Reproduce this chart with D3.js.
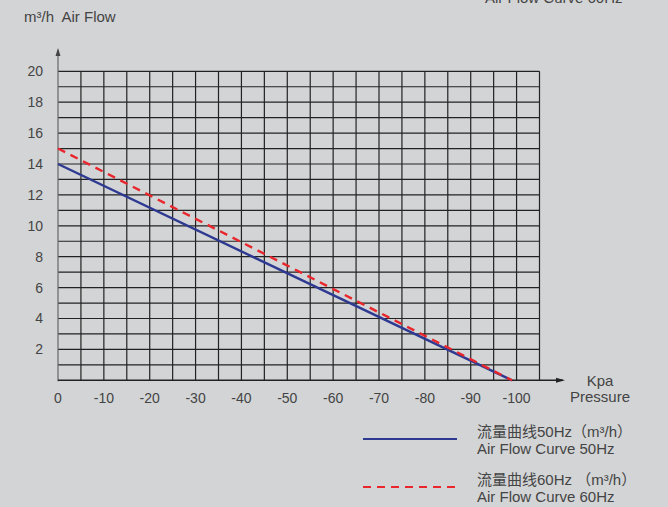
<!DOCTYPE html>
<html><head><meta charset="utf-8">
<script src="https://cdn.jsdelivr.net/npm/d3@7"></script>
<style>
html,body{margin:0;padding:0;background:#d3d4d6;}
svg{display:block;font-family:"Liberation Sans",Arial,"Noto Sans CJK SC",sans-serif;}
text{white-space:pre;}
</style></head>
<body>
<svg id="c" width="668" height="507"></svg>
<script>
const xTicks = [0,-10,-20,-30,-40,-50,-60,-70,-80,-90,-100];
const yTicks = [2,4,6,8,10,12,14,16,18,20];
const pressure = [0,-99];
const flow50 = [14,0];
const flow60 = [15,0];
const legendLabels = [
  ["流量曲线50Hz（m³/h）","Air Flow Curve 50Hz"],
  ["流量曲线60Hz （m³/h）","Air Flow Curve 60Hz"]
];

const svg = d3.select("#c");
const x = d3.scaleLinear().domain([0,-105]).range([58,539.5]);
const y = d3.scaleLinear().domain([0,20]).range([380.3,71.3]);
const txt = "#444";

// grid
const g = svg.append("g").attr("stroke","#222").attr("stroke-width",1.2);
d3.range(-5,-106,-5).forEach(v=>{
  g.append("line").attr("x1",x(v)).attr("x2",x(v)).attr("y1",y(0)).attr("y2",y(20));
});
d3.range(1,21,1).forEach(v=>{
  g.append("line").attr("x1",x(0)).attr("x2",x(-105)).attr("y1",y(v)).attr("y2",y(v));
});

// y axis with arrow
svg.append("line").attr("x1",x(0)).attr("x2",x(0)).attr("y1",y(0)+1).attr("y2",50)
  .attr("stroke","#666").attr("stroke-width",1.2);
svg.append("path").attr("d",`M${x(0)-2.5},56 L${x(0)},48 L${x(0)+2.5},56 Z`).attr("fill","#444");
// x axis with arrow
svg.append("line").attr("x1",x(0)).attr("x2",563).attr("y1",y(0)).attr("y2",y(0))
  .attr("stroke","#222").attr("stroke-width",1.4);
svg.append("path").attr("d",`M556,${y(0)-2.5} L565,${y(0)} L556,${y(0)+2.5} Z`).attr("fill","#222");

// tick labels
svg.append("g").selectAll("text").data(yTicks).join("text")
  .attr("x",43).attr("y",d=>y(d)).attr("dy","0.35em").attr("text-anchor","end")
  .attr("font-size",14).attr("fill",txt).text(d=>d);
svg.append("g").selectAll("text").data(xTicks).join("text")
  .attr("x",d=>x(d)).attr("y",398).attr("dy","0.35em").attr("text-anchor","middle")
  .attr("font-size",14).attr("fill",txt).text(d=>d);

// lines
const line = d3.line().x(d=>x(d[0])).y(d=>y(d[1]));
svg.append("path").attr("d",line(pressure.map((p,i)=>[p,flow50[i]])))
  .attr("fill","none").attr("stroke","#2e3a92").attr("stroke-width",2.4);
svg.append("path").attr("d",line(pressure.map((p,i)=>[p,flow60[i]])))
  .attr("fill","none").attr("stroke","#e8262c").attr("stroke-width",2.4).attr("stroke-dasharray","8,6");

// titles
svg.append("text").attr("x",24).attr("y",22).attr("font-size",15).attr("fill",txt).text("m³/h  Air Flow");
svg.append("text").attr("x",485).attr("y",3).attr("font-size",15).attr("fill",txt).text("Air Flow Curve 60Hz");
svg.append("text").attr("x",600).attr("y",386).attr("text-anchor","middle").attr("font-size",15).attr("fill",txt).text("Kpa");
svg.append("text").attr("x",600).attr("y",402).attr("text-anchor","middle").attr("font-size",15).attr("fill",txt).text("Pressure");

// legend
const leg = [{y:439,color:"#2e3a92",dash:null,ty:437},{y:487,color:"#e8262c",dash:"8,6",ty:485}];
leg.forEach((l,i)=>{
  svg.append("line").attr("x1",363).attr("x2",457).attr("y1",l.y).attr("y2",l.y)
    .attr("stroke",l.color).attr("stroke-width",2).attr("stroke-dasharray",l.dash);
  svg.append("text").attr("x",477).attr("y",l.ty).attr("font-size",15).attr("fill",txt).text(legendLabels[i][0]);
  svg.append("text").attr("x",477).attr("y",l.ty+17).attr("font-size",15).attr("fill",txt).text(legendLabels[i][1]);
});
</script>
</body></html>
